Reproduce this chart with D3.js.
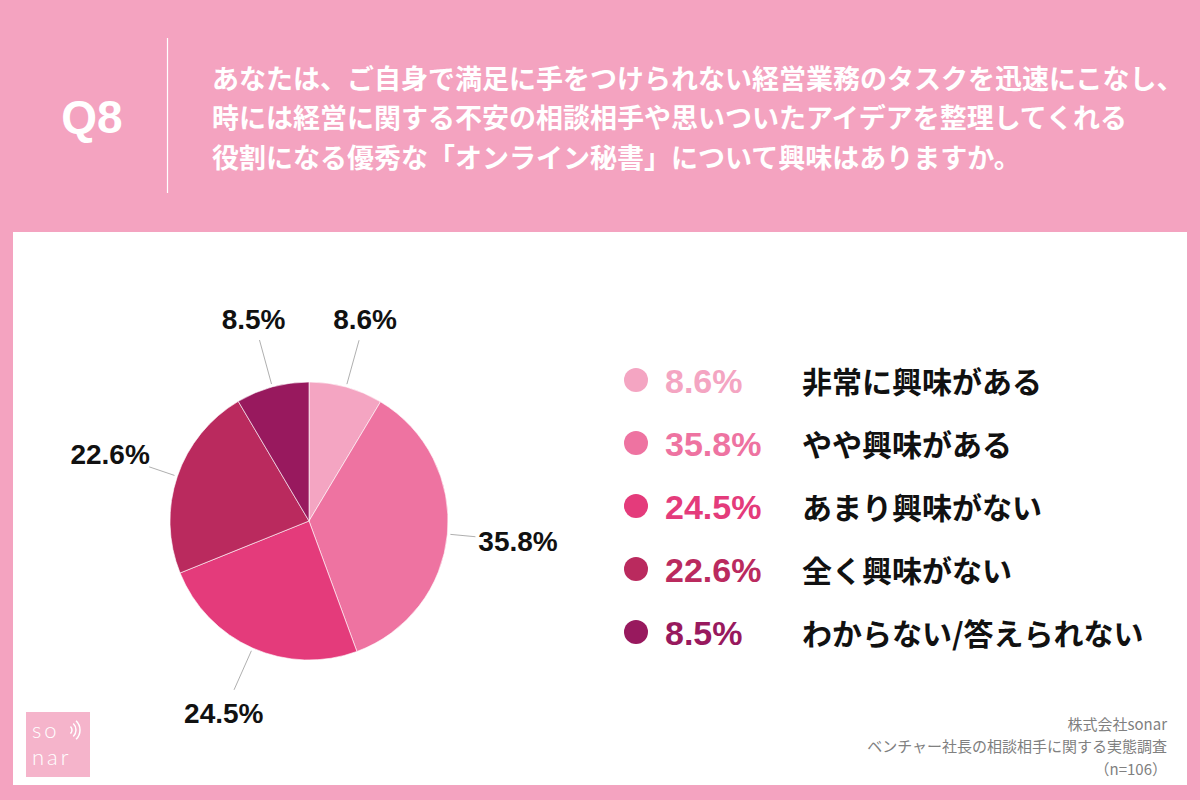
<!DOCTYPE html>
<html>
<head>
<meta charset="utf-8">
<script src="https://cdn.jsdelivr.net/npm/d3@7"></script>
<style>
  html, body { margin: 0; padding: 0; background: #F4A3C0; }
  svg { display: block; }
</style>
</head>
<body>
<svg width="1200" height="800"></svg>
<script>
// Chart data
const categories = ["非常に興味がある", "やや興味がある", "あまり興味がない", "全く興味がない", "わからない/答えられない"];
const values = [8.6, 35.8, 24.5, 22.6, 8.5];
const colors = ["#F4A5C2", "#EE73A1", "#E43B7B", "#BA2A5E", "#98195E"];

const questionLabel = "Q8";
const questionLines = [
    "あなたは、ご自身で満足に手をつけられない経営業務のタスクを迅速にこなし、",
    "時には経営に関する不安の相談相手や思いついたアイデアを整理してくれる",
    "役割になる優秀な「オンライン秘書」について興味はありますか。"
];
const sourceLines = ["株式会社sonar", "ベンチャー社長の相談相手に関する実態調査", "（n=106）"];
const logoLines = ["so", "nar"];

const jp = "'Noto Sans CJK JP', 'Noto Sans', sans-serif";
const num = "'Liberation Sans', Arial, sans-serif";

const svg = d3.select("svg");

// Background and white panel
svg.append("rect").attr("width", 1200).attr("height", 800).attr("fill", "#F4A3C0");
svg.append("rect")
    .attr("x", 13).attr("y", 232)
    .attr("width", 1174).attr("height", 553)
    .attr("fill", "#FFFFFF");

// Header
svg.append("text")
    .attr("x", 92).attr("y", 117)
    .attr("text-anchor", "middle")
    .attr("dominant-baseline", "central")
    .style("font-family", num)
    .style("font-weight", "bold")
    .style("font-size", "46px")
    .style("fill", "#FFFFFF")
    .text(questionLabel);

svg.append("line")
    .attr("x1", 167.5).attr("x2", 167.5)
    .attr("y1", 38).attr("y2", 193)
    .attr("stroke", "#FFFFFF").attr("stroke-width", 1.2);

svg.selectAll("text.question")
    .data(questionLines)
    .enter()
    .append("text")
    .attr("class", "question")
    .attr("x", 212)
    .attr("y", (d, i) => 77 + i * 39.5)
    .attr("dominant-baseline", "central")
    .style("font-family", jp)
    .style("font-weight", "bold")
    .style("font-size", "27px")
    .style("fill", "#FFFFFF")
    .text(d => d);

// Pie
const cx = 309, cy = 521, radius = 139;
const pieData = d3.pie().sort(null).value(d => d)(values);
const arc = d3.arc().innerRadius(0).outerRadius(radius);

const pieG = svg.append("g").attr("transform", `translate(${cx},${cy})`);

pieG.selectAll("path")
    .data(pieData)
    .enter()
    .append("path")
    .attr("d", arc)
    .attr("fill", (d, i) => colors[i])
    .attr("stroke", "#FFFFFF")
    .attr("stroke-width", 0.6);

// Leader lines and value labels, placed radially from slice middle
const labelR = 210;
function midAngle(d) { return (d.startAngle + d.endAngle) / 2; }

pieData.forEach((d, i) => {
    const a = midAngle(d);
    const s = Math.sin(a), c = Math.cos(a);
    // gap between label centre and leader end, based on text box shape
    const gap = Math.sqrt(Math.pow(43 * s, 2) + Math.pow(20 * c, 2));
    const r1 = radius + 3, r2 = labelR - gap;
    pieG.append("line")
        .attr("x1", r1 * s).attr("y1", -r1 * c)
        .attr("x2", r2 * s).attr("y2", -r2 * c)
        .attr("stroke", "#9a9a9a")
        .attr("stroke-width", 0.8);
    pieG.append("text")
        .attr("x", labelR * s)
        .attr("y", -labelR * c + 1)
        .attr("text-anchor", "middle")
        .attr("dominant-baseline", "central")
        .style("font-family", num)
        .style("font-weight", "bold")
        .style("font-size", "28px")
        .style("fill", "#111111")
        .text(values[i] + "%");
});

// Legend
const legendY = d3.scalePoint()
    .domain(categories)
    .range([380, 632]);

const legend = svg.selectAll("g.legend")
    .data(categories)
    .enter()
    .append("g")
    .attr("class", "legend")
    .attr("transform", d => `translate(0, ${legendY(d)})`);

legend.append("circle")
    .attr("cx", 636).attr("cy", 0).attr("r", 12)
    .attr("fill", (d, i) => colors[i]);

legend.append("text")
    .attr("x", 665).attr("y", 1)
    .attr("dominant-baseline", "central")
    .style("font-family", num)
    .style("font-weight", "bold")
    .style("font-size", "34px")
    .style("fill", (d, i) => colors[i])
    .text((d, i) => values[i] + "%");

legend.append("text")
    .attr("x", 802).attr("y", 0)
    .attr("dominant-baseline", "central")
    .style("font-family", jp)
    .style("font-weight", "bold")
    .style("font-size", "30px")
    .style("fill", "#111111")
    .text(d => d);

// Source note
svg.selectAll("text.source")
    .data(sourceLines)
    .enter()
    .append("text")
    .attr("class", "source")
    .attr("x", 1167)
    .attr("y", (d, i) => 723 + i * 22.5)
    .attr("text-anchor", "end")
    .attr("dominant-baseline", "central")
    .style("font-family", jp)
    .style("font-size", "15px")
    .style("fill", "#808080")
    .text(d => d);

// Logo
const logo = svg.append("g").attr("transform", "translate(26,712)");
logo.append("rect").attr("width", 64).attr("height", 65).attr("fill", "#F5B4CB");
logo.selectAll("text.logo")
    .data(logoLines)
    .enter()
    .append("text")
    .attr("class", "logo")
    .attr("x", 6)
    .attr("y", (d, i) => 26 + i * 27)
    .style("font-family", "Lato, 'Open Sans', sans-serif")
    .style("font-weight", 300)
    .style("font-size", "22px")
    .style("letter-spacing", "3px")
    .style("fill", "#FFFFFF")
    .text(d => d);
[5, 9, 13].forEach(r => {
    const wave = d3.arc().innerRadius(r - 0.75).outerRadius(r + 0.75)
        .startAngle(Math.PI / 2 - 0.8).endAngle(Math.PI / 2 + 0.8);
    logo.append("path")
        .attr("transform", "translate(41,18)")
        .attr("d", wave())
        .attr("fill", "#FFFFFF");
});
</script>
</body>
</html>
